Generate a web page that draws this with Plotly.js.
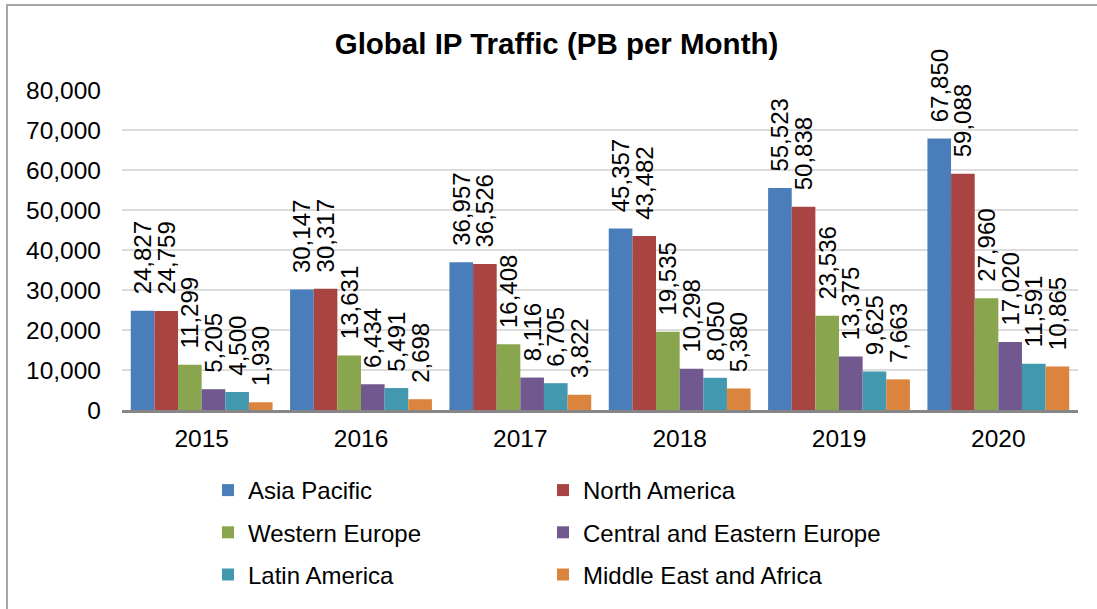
<!DOCTYPE html>
<html>
<head>
<meta charset="utf-8">
<script src="https://cdn.plot.ly/plotly-3.0.1.min.js"></script>
<style>html,body{margin:0;padding:0;background:#fff;}#chart{width:1097px;height:609px;}</style>
</head>
<body>
<div id="chart"></div>
<script>
const years = ['2015', '2016', '2017', '2018', '2019', '2020'];
const asiaPacific = [24827, 30147, 36957, 45357, 55523, 67850];
const northAmerica = [24759, 30317, 36526, 43482, 50838, 59088];
const westernEurope = [11299, 13631, 16408, 19535, 23536, 27960];
const centralEasternEurope = [5205, 6434, 8116, 10298, 13375, 17020];
const latinAmerica = [4500, 5491, 6705, 8050, 9625, 11591];
const middleEastAfrica = [1930, 2698, 3822, 5380, 7663, 10865];
const yTicks = [0, 10000, 20000, 30000, 40000, 50000, 60000, 70000, 80000];

const FONT = 'Liberation Sans, Arial, sans-serif';

const series = [
  {name: 'Asia Pacific', y: asiaPacific, color: '#4a7ebb', legend: 'legend'},
  {name: 'North America', y: northAmerica, color: '#a84543', legend: 'legend2'},
  {name: 'Western Europe', y: westernEurope, color: '#89a54e', legend: 'legend'},
  {name: 'Central and Eastern Europe', y: centralEasternEurope, color: '#71588f', legend: 'legend2'},
  {name: 'Latin America', y: latinAmerica, color: '#4198af', legend: 'legend'},
  {name: 'Middle East and Africa', y: middleEastAfrica, color: '#db843d', legend: 'legend2'}
];

const traces = series.map((s, i) => ({
  type: 'bar',
  name: s.name,
  x: years,
  y: s.y,
  legend: s.legend,
  legendgroup: 'g' + i,
  marker: {color: s.color, line: {width: 0}},
  texttemplate: '\u00a0\u00a0%{y:,}',
  textposition: 'outside',
  textangle: -90,
  constraintext: 'none',
  cliponaxis: false,
  textfont: {family: FONT, size: 24, color: '#000'},
  hoverinfo: 'name+y'
}));

// plot area in pixels: x 122..1078, y 90..410
const PL = 122, PW = 956, PB = 410, PH = 320;

const layout = {
  width: 1097,
  height: 609,
  margin: {l: 122, r: 19, t: 90, b: 199, pad: 0},
  paper_bgcolor: '#fff',
  plot_bgcolor: '#fff',
  barmode: 'group',
  bargap: 0.11,
  bargroupgap: 0,
  showlegend: true,
  font: {family: FONT, size: 24, color: '#000'},
  title: {
    text: 'Global IP Traffic (PB per Month)',
    font: {family: FONT, size: 29.5, color: '#000', weight: 'bold'},
    x: 556.5 / 1097, xref: 'container', xanchor: 'center',
    y: 1 - 44 / 609, yref: 'container', yanchor: 'middle'
  },
  xaxis: {
    type: 'category',
    showgrid: false,
    showline: true,
    linecolor: '#868686',
    linewidth: 2.5,
    ticks: '',
    ticklabelstandoff: 5,
    tickangle: 0,
    tickfont: {family: FONT, size: 24.5, color: '#000'}
  },
  yaxis: {
    range: [0, 80000],
    tickvals: yTicks,
    tickformat: ',',
    showgrid: true,
    gridcolor: '#dcdcdc',
    gridwidth: 2,
    zeroline: false,
    showline: false,
    ticks: '',
    ticklabelstandoff: 20,
    tickfont: {family: FONT, size: 24.5, color: '#000'}
  },
  legend: {
    orientation: 'v',
    xref: 'paper', yref: 'paper',
    x: (208 - PL) / PW, xanchor: 'left',
    y: (PB - 468) / PH, yanchor: 'top',
    traceorder: 'grouped',
    tracegroupgap: 8,
    font: {family: FONT, size: 24, color: '#000'},
    bgcolor: 'rgba(0,0,0,0)'
  },
  legend2: {
    orientation: 'v',
    xref: 'paper', yref: 'paper',
    x: (543 - PL) / PW, xanchor: 'left',
    y: (PB - 468) / PH, yanchor: 'top',
    traceorder: 'grouped',
    tracegroupgap: 8,
    font: {family: FONT, size: 24, color: '#000'},
    bgcolor: 'rgba(0,0,0,0)'
  },
  shapes: [{
    type: 'rect', xref: 'paper', yref: 'paper', layer: 'below',
    x0: (7 - PL) / PW, x1: 1.2,
    y0: -1.5, y1: (PB - 5) / PH,
    line: {color: '#a6a6a6', width: 2},
    fillcolor: 'rgba(0,0,0,0)'
  }]
};

Plotly.newPlot('chart', traces, layout, {displayModeBar: false, responsive: false});
</script>
</body>
</html>
